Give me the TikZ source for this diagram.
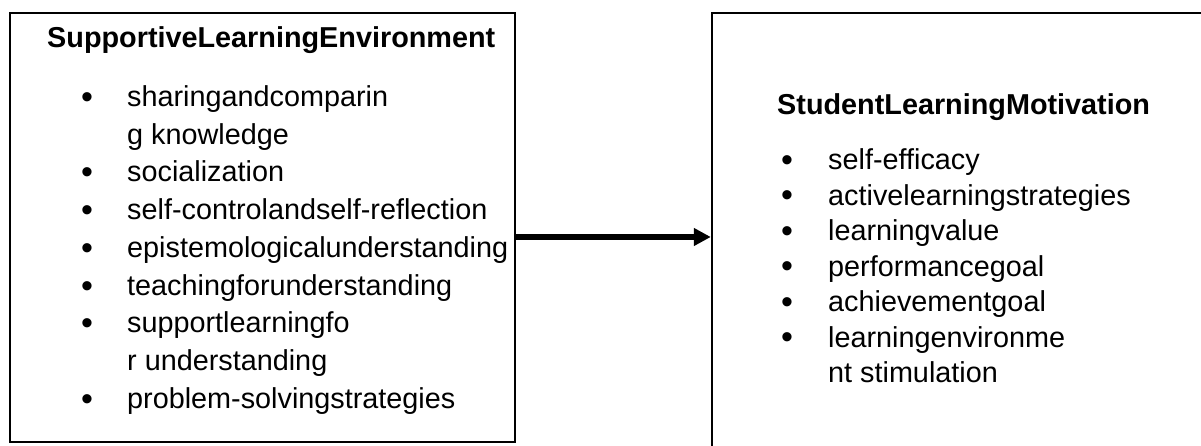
\documentclass[tikz,border=0pt]{standalone}
\usepackage{fontspec}
\setmainfont{Liberation Sans}
\usetikzlibrary{arrows.meta}
\begin{document}
\begin{tikzpicture}[x=1pt,y=1pt,
  box/.style={draw, line width=2.4pt, rectangle, inner sep=0pt},
  ttl/.style={anchor=base west, inner sep=0pt, font=\fontsize{28.8}{34}\selectfont\bfseries},
  itm/.style={anchor=base west, inner sep=0pt, font=\fontsize{28.8}{34}\selectfont},
  bul/.style={anchor=base, inner sep=0pt, yshift=-1.4pt, font=\fontsize{34}{34}\selectfont},
  link/.style={line width=5.5pt, -{Triangle[length=17pt,width=17pt]}}]
\clip (0,0) rectangle (1201,446);
\fill[white] (0,0) rectangle (1201,446);
% boxes (y measured downward in px, flipped)
\node[box, minimum width=505pt, minimum height=429pt] (lbox) at (262.5,218.5) {};
\node[box, minimum width=548pt, minimum height=467pt] (rbox) at (986,199.5) {};
% left content
\node[ttl] (lt) at (47,446-48) {SupportiveLearningEnvironment};
\foreach \t/\y/\b [count=\i] in {
  sharingandcomparin/107/1,
  g knowledge/145/0,
  socialization/182/1,
  self-controlandself-reflection/220/1,
  epistemologicalunderstanding/258/1,
  teachingforunderstanding/296/1,
  supportlearningfo/333/1,
  r understanding/371/0,
  problem-solvingstrategies/409/1}{
  \node[itm] (l\i) at (127,446-\y) {\t};
  \ifnum\b=1 \node[bul] (lb\i) at (87,446-\y) {•};\fi
}
% right content
\node[ttl] (rt) at (777,446-115) {StudentLearningMotivation};
\foreach \t/\y/\b [count=\i] in {
  self-efficacy/170/1,
  activelearningstrategies/205.5/1,
  learningvalue/241/1,
  performancegoal/276.5/1,
  achievementgoal/312/1,
  learningenvironme/347.5/1,
  nt stimulation/383/0}{
  \node[itm] (r\i) at (828,446-\y) {\t};
  \ifnum\b=1 \node[bul] (rb\i) at (787,446-\y) {•};\fi
}
% connector
\coordinate (s) at ([yshift=-9.5pt]lbox.east);
\draw[link] (s) -- (s -| rbox.west);
\end{tikzpicture}
\end{document}
